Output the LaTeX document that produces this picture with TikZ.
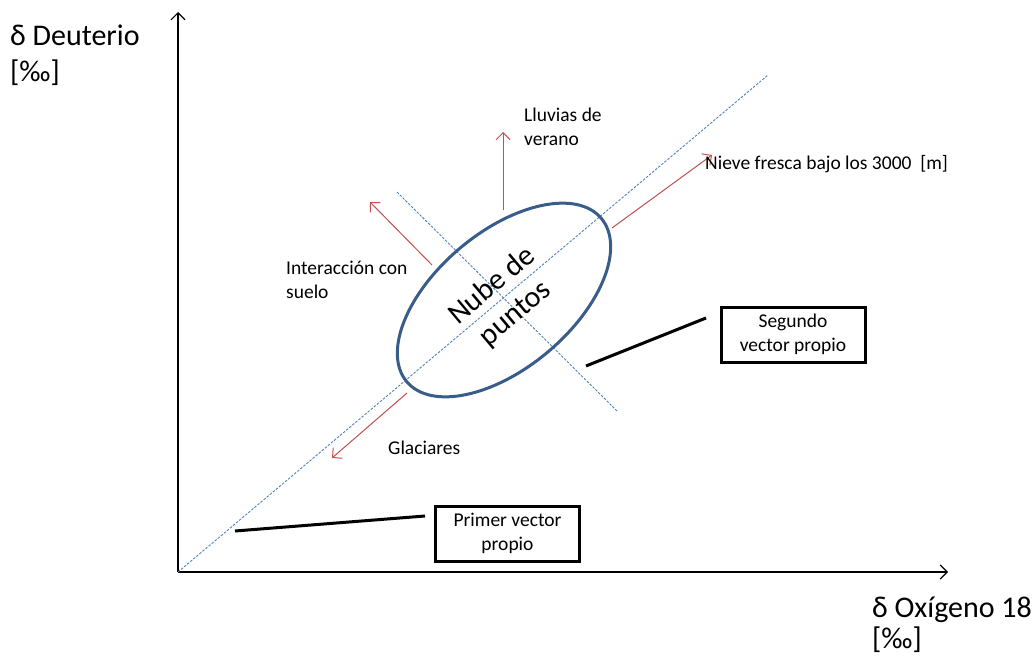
\documentclass[tikz,border=0pt]{standalone}
\usepackage{fontspec}
\setmainfont{Carlito}
\usetikzlibrary{arrows.meta}
\definecolor{axred}{HTML}{C0504D}
\definecolor{dashblue}{HTML}{4F81BD}
\definecolor{ellblue}{HTML}{385D8A}
\begin{document}
\begin{tikzpicture}[x=1pt,y=-1pt,
  axis/.style={draw=black,line width=1.1pt,-{Straight Barb[length=7pt,width=14pt,line width=1.1pt]}},
  redarrow/.style={draw=axred,line width=1pt,-{Straight Barb[length=7pt,width=14pt,line width=1pt]}},
  dashline/.style={draw=dashblue,line width=0.9pt,dash pattern=on 2.5pt off 1.5pt},
  pointer/.style={draw=black,line width=3pt},
  lbl/.style={font=\fontsize{19.5}{24}\selectfont,inner sep=0pt,align=left},
  bigl/.style={font=\fontsize{30}{36}\selectfont,inner sep=0pt,anchor=west},
  vbox/.style={draw=black,line width=3pt,font=\fontsize{19.5}{24}\selectfont,align=center,inner sep=0pt,minimum width=144pt,minimum height=55pt}
  ]
\useasboundingbox (0,0) rectangle (1036,656);
% axes
\coordinate (O) at (178,572);
\coordinate (Ytop) at (178,12);
\coordinate (Xend) at (948,572);
\draw[axis] (O) -- (Ytop);
\draw[axis] (O) -- (Xend);
% axis labels
\node[bigl] (ylab1) at (10,35) {δ Deuterio};
\node[bigl] (ylab2) at (10,73) {[‰]};
\node[bigl] (xlab1) at (872,610) {δ Oxígeno 18};
\node[bigl] (xlab2) at (872,640) {[‰]};
% dashed lines
\coordinate (D1a) at (178,572);
\coordinate (D1b) at (768,75);
\coordinate (D2a) at (397,192);
\coordinate (D2b) at (617,411);
\draw[dashline] (D1a) -- (D1b);
\draw[dashline] (D2a) -- (D2b);
% ellipse
\coordinate (C) at (504,300);
\draw[draw=ellblue,line width=3pt,rotate around={40:(C)}] (C) ellipse [x radius=127, y radius=68];
\node[font=\fontsize{30}{36}\selectfont,align=center,rotate=40,inner sep=0pt] (nube) at (C) {Nube de\\puntos};
% red arrows
\coordinate (Ra1) at (503,210); \coordinate (Ra2) at (503,132);
\coordinate (Rb1) at (432,265); \coordinate (Rb2) at (370,202);
\coordinate (Rc1) at (612,228); \coordinate (Rc2) at (712,155);
\coordinate (Rd1) at (407,393); \coordinate (Rd2) at (332,458);
\draw[redarrow] (Ra1) -- (Ra2);
\draw[redarrow] (Rb1) -- (Rb2);
\draw[redarrow] (Rc1) -- (Rc2);
\draw[redarrow] (Rd1) -- (Rd2);
% labels
\node[lbl,anchor=west] (lluvias) at (524,127) {Lluvias de\\verano};
\node[lbl,anchor=west] (nieve) at (705,164) {Nieve fresca bajo los 3000~~[m]};
\node[lbl,anchor=west] (inter) at (286,280) {Interacción con\\suelo};
\node[lbl,anchor=west] (glac) at (388,448) {Glaciares};
% boxes
\node[vbox] (seg) at (793,334.5) {Segundo\\vector propio};
\node[vbox] (prim) at (507.5,533.5) {Primer vector\\propio};
\coordinate (P1a) at (235,531); \coordinate (P1b) at (425,516);
\coordinate (P2a) at (586,366); \coordinate (P2b) at (706,318);
\draw[pointer] (P1a) -- (P1b);
\draw[pointer] (P2a) -- (P2b);
\end{tikzpicture}
\end{document}
